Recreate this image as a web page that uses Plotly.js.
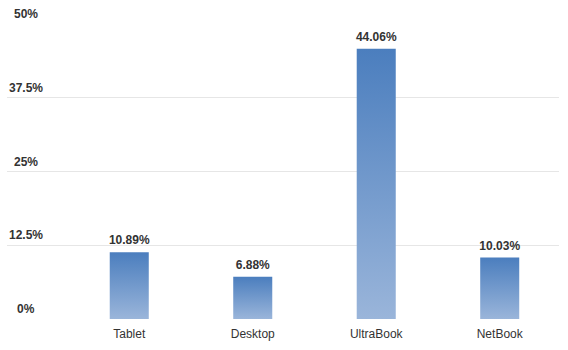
<!DOCTYPE html>
<html>
<head>
<meta charset="utf-8">
<script src="https://cdn.plot.ly/plotly-3.0.1.min.js"></script>
<style>html,body{margin:0;padding:0;background:#fff}#chart{width:568px;height:350px}</style>
</head>
<body>
<div id="chart"></div>
<script>
var categories = ["Tablet", "Desktop", "UltraBook", "NetBook"];
var shares = [10.89, 6.88, 44.06, 10.03];
var yTickVals = [0, 12.5, 25, 37.5, 50];
var yTickText = ["0%", "12.5%", "25%", "37.5%", "50%"];

var barWidth = 0.316;
var topColor = "#4b7ebe";
var bottomColor = "#9ab5da";

var traces = [];
// invisible trace carrying the percentage grid axis
traces.push({
  type: "scatter", mode: "none",
  x: [0, 3], y: [yTickVals[0], yTickVals[yTickVals.length - 1]],
  yaxis: "y2", hoverinfo: "skip", showlegend: false
});
categories.forEach(function (c, i) {
  var v = shares[i];
  traces.push({
    type: "scatter",
    mode: "none",
    x: [i - barWidth / 2, i + barWidth / 2, i + barWidth / 2, i - barWidth / 2, i - barWidth / 2],
    y: [0, 0, v, v, 0],
    fill: "toself",
    fillgradient: { type: "vertical", colorscale: [[0, bottomColor], [1, topColor]] },
    hoverinfo: "skip",
    showlegend: false,
    name: c
  });
});
traces.push({
  type: "scatter",
  mode: "text+markers",
  marker: { size: 6, color: "rgba(0,0,0,0)" },
  x: categories.map(function (c, i) { return i; }),
  y: shares,
  text: shares.map(function (v) { return v.toFixed(2) + "%"; }),
  textposition: "top center",
  textfont: { family: "Liberation Sans, Arial, sans-serif", size: 12, color: "#333333", weight: "bold" },
  showlegend: false,
  hoverinfo: "skip"
});

var annotations = yTickVals.map(function (v, i) {
  return {
    xref: "paper", yref: "y2",
    x: 19 / 552, y: v,
    xanchor: "center", yanchor: "bottom",
    yshift: 1,
    showarrow: false,
    text: yTickText[i],
    font: { family: "Liberation Sans, Arial, sans-serif", size: 12, color: "#333333", weight: "bold" }
  };
});

var layout = {
  width: 568, height: 350,
  margin: { l: 7, r: 9, t: 24, b: 31 },
  paper_bgcolor: "#ffffff", plot_bgcolor: "#ffffff",
  font: { family: "Liberation Sans, Arial, sans-serif", size: 12, color: "#333333" },
  showlegend: false,
  annotations: annotations,
  xaxis: {
    range: [-0.99, 3.48],
    tickvals: [0, 1, 2, 3],
    ticktext: categories,
    showgrid: false, zeroline: false, showline: false,
    ticks: "outside", ticklen: 4, tickcolor: "rgba(0,0,0,0)",
    tickfont: { size: 12, color: "#333333" }
  },
  yaxis: {
    range: [0, 48.1],
    showgrid: false, zeroline: false, showline: false,
    showticklabels: false, ticks: ""
  },
  yaxis2: {
    overlaying: "y",
    side: "left",
    layer: "below traces",
    range: [0, 50],
    tickvals: yTickVals,
    showticklabels: false,
    showgrid: true, gridcolor: "#e6e6e6", gridwidth: 1,
    zeroline: false, showline: false, ticks: ""
  }
};

Plotly.newPlot("chart", traces, layout, { displayModeBar: false, staticPlot: true });
</script>
</body>
</html>
